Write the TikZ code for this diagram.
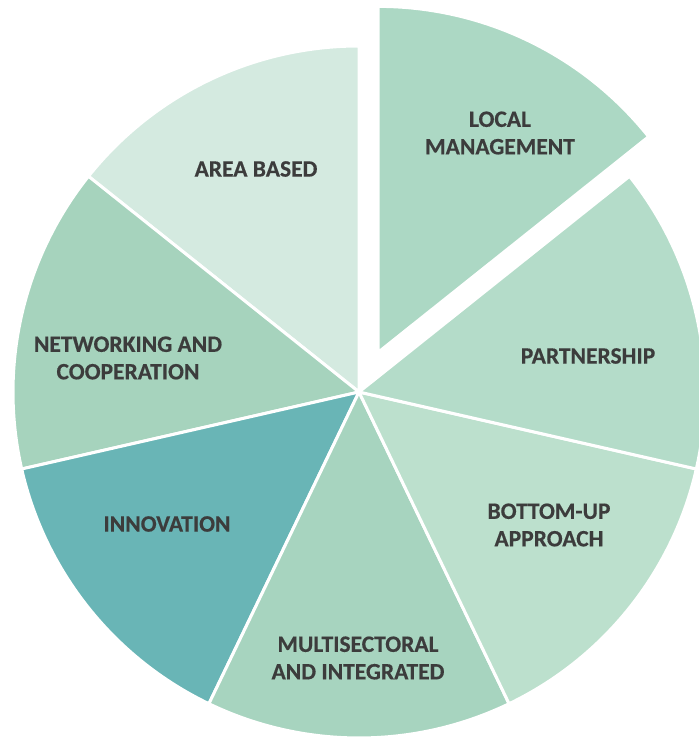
\documentclass[tikz,border=0pt]{standalone}
\usepackage{fontspec}
\setmainfont{Carlito}[BoldFeatures={FakeBold=0.4}]
\definecolor{cLocal}{HTML}{ACD8C4}
\definecolor{cPart}{HTML}{B4DCC9}
\definecolor{cBottom}{HTML}{BCE0CD}
\definecolor{cMulti}{HTML}{A7D4BF}
\definecolor{cInno}{HTML}{69B5B6}
\definecolor{cNet}{HTML}{A6D3BD}
\definecolor{cArea}{HTML}{D4EAE0}
\definecolor{cText}{HTML}{3C3C3C}
\begin{document}
\begin{tikzpicture}[x=1pt,y=1pt,
  slice/.style={draw=white,line width=3pt,line join=miter},
  lbl/.style={font=\bfseries\fontsize{23.5}{27.5}\selectfont,text=cText,align=center,inner sep=0pt}]
\useasboundingbox (0,0) rectangle (699,740);
\clip (0,0) rectangle (699,740);
\def\R{346}
\coordinate (c) at (359,348);
\coordinate (e) at (378.1,387.6);
\fill[cArea,slice] (c) -- ++(90:\R) arc[start angle=90,end angle=141.43,radius=\R] -- cycle;
\fill[cNet,slice] (c) -- ++(141.43:\R) arc[start angle=141.43,end angle=192.86,radius=\R] -- cycle;
\fill[cInno,slice] (c) -- ++(192.86:\R) arc[start angle=192.86,end angle=244.29,radius=\R] -- cycle;
\fill[cMulti,slice] (c) -- ++(244.29:\R) arc[start angle=244.29,end angle=295.71,radius=\R] -- cycle;
\fill[cBottom,slice] (c) -- ++(295.71:\R) arc[start angle=295.71,end angle=347.14,radius=\R] -- cycle;
\fill[cPart,slice] (c) -- ++(347.14:\R) arc[start angle=347.14,end angle=398.57,radius=\R] -- cycle;
\fill[cLocal,slice] (e) -- ++(38.57:\R) arc[start angle=38.57,end angle=90,radius=\R] -- cycle;
\node[lbl] (local) at (500,607) {LOCAL\\MANAGEMENT};
\node[lbl] (area) at (256,571) {AREA BASED};
\node[lbl] (part) at (588,384) {PARTNERSHIP};
\node[lbl] (net) at (128,382) {NETWORKING AND\\COOPERATION};
\node[lbl] (inno) at (167,216) {INNOVATION};
\node[lbl] (bottom) at (549,215) {BOTTOM-UP\\APPROACH};
\node[lbl] (multi) at (358,82) {MULTISECTORAL\\AND INTEGRATED};
\end{tikzpicture}
\end{document}
